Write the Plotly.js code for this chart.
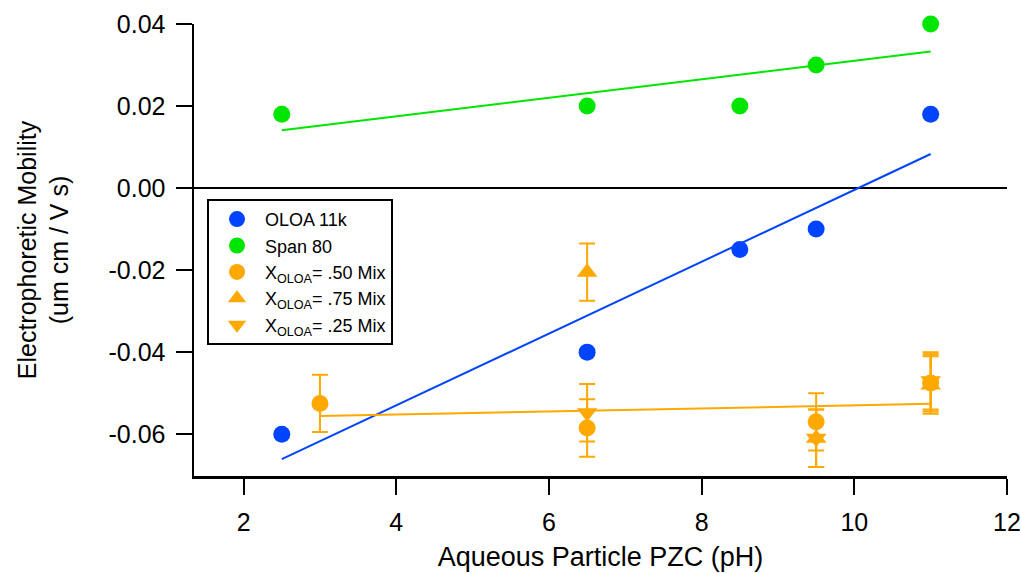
<!DOCTYPE html>
<html>
<head>
<meta charset="utf-8">
<script src="https://cdn.plot.ly/plotly-3.0.1.min.js"></script>
<style>html,body{margin:0;padding:0;background:#fff;}#chart{width:1021px;height:573px;}</style>
</head>
<body>
<div id="chart"></div>
<script>
// ---- data ----
const oloaX = [2.5, 6.5, 8.5, 9.5, 11];
const oloaY = [-0.060, -0.040, -0.015, -0.010, 0.018];
const spanX = [2.5, 6.5, 8.5, 9.5, 11];
const spanY = [0.018, 0.020, 0.020, 0.030, 0.040];
const mix50X = [3, 6.5, 9.5, 11];
const mix50Y = [-0.0525, -0.0585, -0.0570, -0.0475];
const mix50Err = [0.007, 0.007, 0.007, 0.007];
const mix75X = [6.5, 9.5, 11];
const mix75Y = [-0.0205, -0.0610, -0.0480];
const mix75Err = [0.007, 0.007, 0.007];
const mix25X = [6.5, 9.5, 11];
const mix25Y = [-0.0548, -0.0610, -0.0470];
const mix25Err = [0.007, 0.007, 0.007];
// fitted lines (end points)
const oloaFitX = [2.5, 11];
const oloaFitY = [-0.0661, 0.0083];
const spanFitX = [2.5, 11];
const spanFitY = [0.0141, 0.0333];
const mixFitX = [3, 11];
const mixFitY = [-0.0556, -0.0526];
const xTicks = [2, 4, 6, 8, 10, 12];
const yTicks = [-0.06, -0.04, -0.02, 0, 0.02, 0.04];
const yTickText = ['-0.06', '-0.04', '-0.02', '0.00', '0.02', '0.04'];

const BLUE = '#0044FF', GREEN = '#00E600', ORANGE = '#FFA800';
const FONT = 'Liberation Sans, Arial, sans-serif';

const errStyle = (arr) => ({type: 'data', array: arr, visible: true, color: ORANGE, thickness: 2, width: 8});

const traces = [
  {x: oloaFitX, y: oloaFitY, mode: 'lines', line: {color: BLUE, width: 2}, showlegend: false, hoverinfo: 'skip'},
  {x: spanFitX, y: spanFitY, mode: 'lines', line: {color: GREEN, width: 2}, showlegend: false, hoverinfo: 'skip'},
  {x: mixFitX, y: mixFitY, mode: 'lines', line: {color: ORANGE, width: 2}, showlegend: false, hoverinfo: 'skip'},
  {x: oloaX, y: oloaY, mode: 'markers', name: 'OLOA 11k', cliponaxis: false, marker: {color: BLUE, size: 17, symbol: 'circle'}},
  {x: spanX, y: spanY, mode: 'markers', name: 'Span 80', cliponaxis: false, marker: {color: GREEN, size: 17, symbol: 'circle'}},
  {x: mix50X, y: mix50Y, mode: 'markers', name: 'X<sub>OLOA</sub>= .50 Mix', cliponaxis: false, marker: {color: ORANGE, size: 17, symbol: 'circle'}, error_y: errStyle(mix50Err)},
  {x: mix75X, y: mix75Y, mode: 'markers', name: 'X<sub>OLOA</sub>= .75 Mix', cliponaxis: false, marker: {color: ORANGE, size: 18, symbol: 'triangle-up'}, error_y: errStyle(mix75Err)},
  {x: mix25X, y: mix25Y, mode: 'markers', name: 'X<sub>OLOA</sub>= .25 Mix', cliponaxis: false, marker: {color: ORANGE, size: 18, symbol: 'triangle-down'}, error_y: errStyle(mix25Err)}
];

const layout = {
  width: 1021, height: 573,
  margin: {l: 194, r: 14, t: 24, b: 97},
  paper_bgcolor: '#fff', plot_bgcolor: '#fff',
  font: {family: FONT, size: 22, color: '#000'},
  showlegend: true,
  legend: {
    x: 0.016, y: 0.613, xanchor: 'left', yanchor: 'top',
    bordercolor: '#000', borderwidth: 2, bgcolor: '#fff',
    font: {family: FONT, size: 18, color: '#000'},
    itemwidth: 46, tracegroupgap: 0
  },
  xaxis: {
    range: [1.35, 12], tickvals: xTicks,
    showgrid: false, zeroline: false, showline: true, linecolor: '#000', linewidth: 2.5,
    ticks: 'outside', ticklen: 16, tickwidth: 2, tickcolor: '#000',
    ticklabelstandoff: 6,
    tickfont: {family: FONT, size: 25},
    title: {text: 'Aqueous Particle PZC (pH)', font: {family: FONT, size: 27}, standoff: 13}
  },
  yaxis: {
    range: [-0.0702, 0.04], tickvals: yTicks, ticktext: yTickText,
    showgrid: false, zeroline: true, zerolinecolor: '#000', zerolinewidth: 2,
    showline: true, linecolor: '#000', linewidth: 2.5,
    ticks: 'outside', ticklen: 16, tickwidth: 2, tickcolor: '#000',
    ticklabelstandoff: 5,
    tickfont: {family: FONT, size: 25},
    title: {text: 'Electrophoretic Mobility<br>(um cm / V s)', font: {family: FONT, size: 25}, standoff: 33}
  }
};

Plotly.newPlot('chart', traces, layout, {displayModeBar: false, staticPlot: true});
</script>
</body>
</html>
